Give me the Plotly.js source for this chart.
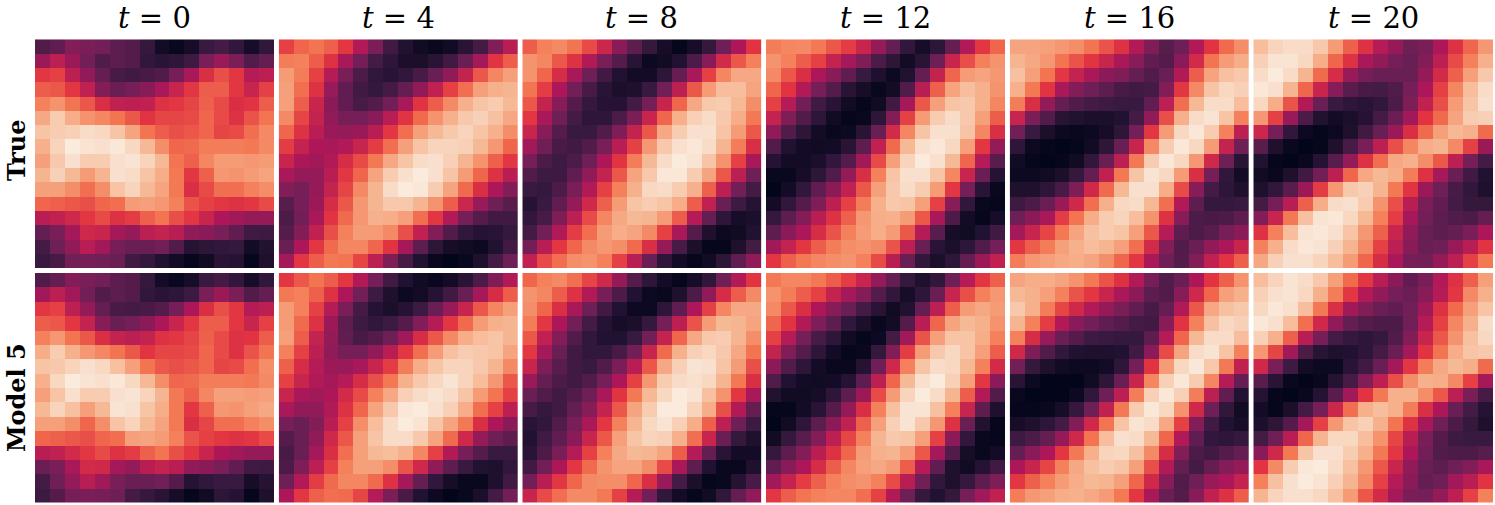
<!DOCTYPE html>
<html>
<head>
<meta charset="utf-8">
<script src="https://cdn.plot.ly/plotly-3.0.1.min.js"></script>
<style>
html, body { margin: 0; padding: 0; background: #fff; overflow: hidden; }
</style>
</head>
<body>
<div id="chart" style="width:1495px;height:505px;"></div>
<script>
// cell values, 0 (darkest) to 100 (lightest)
var trueT0 = [
[21,25,33,31,29,24,22,14,5,2,6,15,18,13,6,13],
[39,47,39,29,21,24,22,13,11,12,16,31,38,31,21,26],
[58,60,47,36,26,19,17,19,21,30,42,55,63,58,45,47],
[66,65,58,48,33,27,30,34,42,50,58,66,66,58,50,60],
[74,78,71,65,55,48,47,48,56,58,61,67,62,55,57,66],
[83,92,84,78,75,71,65,57,61,61,62,68,62,56,64,71],
[90,92,93,96,95,90,82,71,66,63,65,68,61,62,70,76],
[85,94,100,98,97,99,95,87,77,68,69,73,73,73,72,76],
[81,91,97,92,92,97,98,94,87,71,67,75,80,80,79,80],
[86,93,87,80,86,97,96,90,84,72,58,67,79,78,80,82],
[81,81,77,70,77,90,94,87,82,72,55,62,70,70,74,77],
[68,67,65,63,68,70,80,81,79,74,64,60,58,56,58,62],
[46,48,52,58,62,56,59,67,71,63,58,50,43,40,37,37],
[26,31,41,52,50,41,37,47,49,46,36,35,31,25,17,16],
[18,28,36,46,40,30,27,27,29,21,10,12,13,14,5,9],
[15,19,29,30,29,27,17,14,9,5,1,4,11,10,1,8]
];
var trueT4 = [
[60,68,71,67,58,44,31,17,9,4,2,4,11,18,33,46],
[73,74,66,56,42,29,18,12,7,7,11,17,27,41,57,66],
[80,73,60,45,31,20,13,11,13,19,27,36,49,65,75,81],
[81,70,56,38,25,17,14,18,26,36,48,60,70,81,85,86],
[81,66,50,35,25,19,22,29,42,57,66,76,85,90,92,87],
[76,61,49,36,30,30,34,46,57,69,78,85,91,93,89,83],
[68,56,46,39,37,39,46,58,70,81,87,91,94,90,85,77],
[59,49,43,42,44,50,59,70,81,90,94,94,93,87,79,68],
[50,43,40,44,54,62,72,83,90,96,97,93,86,78,67,58],
[42,37,37,46,58,68,82,92,97,100,97,90,80,68,56,46],
[33,30,37,49,61,76,86,96,100,99,92,82,69,55,43,33],
[23,30,39,54,65,79,86,91,91,86,78,66,51,38,28,23],
[20,29,42,57,69,79,85,84,81,70,58,44,30,22,17,17],
[22,33,48,63,74,80,80,76,63,48,33,21,13,10,11,14],
[27,43,58,69,75,75,68,57,41,24,12,6,4,3,9,17],
[41,58,66,72,71,61,47,32,19,9,2,0,2,8,18,28]
];
var trueT8 = [
[66,74,76,71,62,51,35,24,14,6,1,6,14,28,43,57],
[78,75,65,56,44,31,22,11,3,4,9,20,35,53,65,74],
[78,68,54,42,28,17,9,5,5,12,26,42,60,75,83,83],
[71,59,43,29,19,11,7,8,15,29,47,65,80,88,88,82],
[65,49,34,22,14,10,10,18,30,50,68,83,91,92,87,77],
[58,42,28,18,12,12,20,31,50,68,85,93,96,91,84,72],
[50,34,22,15,15,21,32,49,65,83,92,97,97,90,80,65],
[40,28,19,17,21,31,46,60,79,91,97,99,96,86,73,55],
[30,20,16,20,28,43,57,73,87,96,100,98,90,78,60,42],
[21,16,16,25,36,49,65,82,91,99,99,92,82,65,47,28],
[15,14,20,31,44,60,74,85,95,96,92,85,67,47,29,18],
[10,15,25,37,52,67,80,90,92,90,84,66,48,27,16,10],
[13,19,32,47,62,75,83,87,86,80,66,45,26,12,6,7],
[18,29,44,59,70,80,84,82,76,60,42,22,8,3,4,9],
[29,46,58,68,76,79,77,69,55,37,19,7,1,1,8,18],
[48,62,70,77,78,74,60,46,27,12,5,1,4,12,25,36]
];
var trueT12 = [
[73,75,76,72,65,59,50,37,26,13,6,12,26,44,58,68],
[78,74,66,60,49,41,32,20,12,5,11,28,50,63,74,78],
[76,65,55,43,34,25,15,8,3,9,26,49,68,80,82,79],
[68,57,44,30,22,11,6,2,5,21,46,67,82,88,85,78],
[60,45,29,17,11,4,1,4,17,41,65,81,90,91,85,75],
[49,32,21,12,4,1,2,12,33,60,80,92,96,91,81,66],
[36,21,12,5,2,3,11,27,53,75,90,97,97,90,75,55],
[21,9,5,4,5,11,24,48,69,87,97,99,95,81,58,37],
[10,5,5,7,13,22,40,62,81,94,100,97,87,68,45,23],
[2,2,6,12,21,37,55,74,90,97,97,90,75,50,27,10],
[0,5,13,25,35,48,65,81,91,96,92,80,58,30,11,2],
[5,13,22,32,47,60,73,85,91,90,81,60,34,13,2,1],
[14,24,33,46,56,67,79,84,85,80,65,42,20,5,1,6],
[24,35,43,54,64,74,80,84,80,65,45,23,6,4,9,17],
[40,49,58,66,73,77,78,76,64,47,27,11,7,12,21,30],
[58,67,72,75,77,78,74,62,46,27,13,7,12,26,39,48]
];
var trueT16 = [
[82,82,81,79,77,71,64,56,44,32,23,28,44,57,69,77],
[86,83,79,71,64,57,50,42,34,25,22,35,53,71,80,84],
[89,81,71,58,49,42,35,32,26,21,27,44,66,82,89,91],
[85,72,57,42,33,28,24,19,17,18,33,58,76,90,95,93],
[73,55,37,26,21,18,16,15,15,25,47,70,87,96,96,88],
[50,31,21,11,9,7,7,9,18,36,63,85,96,98,90,74],
[29,15,7,3,2,3,6,12,30,58,80,95,99,92,74,47],
[12,3,1,0,1,4,12,27,50,76,92,99,95,80,49,28],
[4,1,0,1,4,13,27,47,72,92,99,95,79,52,28,11],
[3,3,4,7,14,26,48,72,90,98,95,80,55,30,13,5],
[8,8,12,19,32,52,69,87,97,97,84,62,34,18,12,8],
[16,20,27,38,52,70,85,95,96,87,70,44,24,14,14,15],
[28,35,42,59,71,84,92,94,88,78,56,34,20,19,20,24],
[41,50,61,72,82,89,92,90,81,65,45,24,20,23,30,35],
[58,66,73,81,85,88,86,81,70,53,33,21,27,36,43,50],
[73,79,81,83,84,82,77,68,58,42,28,22,33,48,57,67]
];
var trueT20 = [
[88,94,96,96,91,80,67,56,45,37,28,31,43,56,68,79],
[93,98,98,95,84,68,56,42,36,30,27,33,47,62,74,85],
[96,100,96,86,69,54,38,30,27,27,27,37,53,67,81,91],
[99,97,86,68,50,34,23,19,18,21,30,43,60,75,88,96],
[95,84,64,44,27,15,12,11,13,20,32,48,63,80,90,97],
[79,60,38,20,9,5,7,10,18,27,40,57,69,82,92,93],
[51,30,13,3,1,3,8,17,27,39,55,69,81,87,85,69],
[23,8,2,0,1,8,19,31,47,63,75,84,86,76,60,39],
[9,1,0,2,10,23,37,56,70,83,85,77,65,47,30,18],
[4,2,8,17,29,47,68,83,87,84,73,56,41,27,17,9],
[8,13,23,39,59,79,91,93,86,72,57,39,28,19,13,8],
[18,30,46,67,84,96,97,92,78,63,46,31,25,18,14,14],
[33,50,72,89,98,99,95,87,74,59,41,29,24,21,20,26],
[56,74,88,98,99,97,90,79,67,50,36,27,24,26,31,43],
[74,85,96,99,98,93,86,76,60,47,34,27,28,38,46,57],
[83,93,97,97,94,88,80,68,54,42,30,29,37,47,60,72]
];
var modelT0 = [
[21,26,33,31,29,24,22,14,5,2,6,15,18,13,6,13],
[40,47,40,29,21,24,22,13,11,12,16,31,39,31,21,26],
[58,60,47,37,26,19,18,19,22,30,43,55,63,58,45,47],
[66,65,58,49,34,27,30,35,43,50,58,66,66,58,50,60],
[74,79,71,65,55,49,47,49,56,58,61,67,62,56,57,66],
[84,92,85,79,75,71,65,57,61,61,62,68,62,56,64,71],
[90,91,94,97,95,89,81,71,65,63,65,68,61,62,70,77],
[85,95,100,98,97,99,95,87,77,68,69,73,73,73,72,76],
[81,90,97,92,92,97,98,94,86,72,67,75,81,81,80,81],
[87,94,89,81,87,98,97,90,84,72,58,67,79,78,81,83],
[81,81,77,68,77,90,94,87,82,72,55,61,70,70,74,77],
[68,67,65,63,68,70,81,82,80,74,64,60,58,56,58,62],
[46,48,53,58,62,56,59,67,71,63,58,50,43,40,37,37],
[27,31,42,53,52,41,37,46,49,46,36,35,31,25,17,16],
[18,28,37,46,40,31,27,27,29,22,10,13,15,15,6,10],
[16,22,30,31,30,28,18,14,11,6,1,4,12,10,1,8]
];
var modelT4 = [
[58,65,71,66,58,44,30,17,9,4,2,5,11,20,32,44],
[72,74,67,56,43,29,16,8,3,5,10,17,27,41,54,66],
[80,74,60,45,31,18,10,7,10,16,27,38,50,65,75,81],
[80,69,56,39,24,16,13,16,22,33,45,58,69,80,85,86],
[81,66,49,37,25,19,22,28,40,54,65,76,84,88,90,86],
[74,60,47,36,30,30,36,46,58,70,80,89,92,91,90,82],
[67,54,45,39,38,42,50,59,73,84,90,94,94,91,86,76],
[60,50,44,41,45,54,63,72,85,91,95,98,94,88,79,65],
[50,42,40,43,53,62,74,83,93,96,98,96,90,80,71,60],
[42,36,36,44,56,68,82,91,99,100,97,93,84,70,60,47],
[30,27,33,46,60,77,88,96,100,98,90,82,72,55,43,35],
[22,27,36,52,65,81,90,96,96,91,82,69,52,37,28,24],
[19,27,41,55,70,81,87,88,85,75,60,44,30,22,15,15],
[20,32,47,60,74,81,81,77,64,52,36,24,15,9,8,13],
[28,44,59,69,75,75,69,56,41,26,13,6,2,2,8,17],
[43,58,67,70,69,61,45,31,19,9,3,0,2,7,18,29]
];
var modelT8 = [
[68,74,76,70,61,52,37,22,12,5,1,6,13,28,44,57],
[78,75,66,56,44,30,20,9,3,2,8,20,36,54,66,76],
[77,68,55,42,28,17,9,3,3,12,25,43,60,75,83,83],
[73,58,43,29,18,10,6,7,14,30,47,64,80,87,86,82],
[65,48,33,21,13,9,9,15,29,49,68,83,91,92,86,77],
[58,41,27,17,13,13,19,29,50,69,85,93,95,91,83,71],
[50,32,23,17,15,21,31,46,65,83,93,98,97,90,80,63],
[38,26,20,17,21,30,43,60,79,92,96,97,95,86,72,55],
[27,21,17,21,28,42,57,72,87,95,100,98,89,78,58,42],
[19,14,17,26,34,49,65,82,92,100,100,94,84,63,44,26],
[11,13,21,31,42,58,74,86,95,98,93,84,67,47,28,16],
[9,17,25,35,50,65,81,90,94,93,85,70,50,27,14,8],
[11,20,31,45,60,74,83,87,86,82,66,45,26,11,5,5],
[17,29,43,58,69,78,82,82,77,62,42,24,9,2,2,8],
[29,46,58,68,76,77,77,68,55,38,18,7,1,2,10,19],
[50,62,70,76,76,72,60,45,29,13,5,1,4,13,26,36]
];
var modelT12 = [
[72,75,75,72,66,59,50,37,26,14,8,13,28,45,58,67],
[78,73,66,60,49,41,33,22,13,6,12,27,50,63,74,79],
[76,65,55,43,34,27,18,11,4,9,26,47,66,80,83,80],
[68,57,44,32,24,13,7,2,5,22,46,68,82,87,85,78],
[60,45,30,19,12,4,1,3,18,40,64,81,90,90,84,74],
[49,32,22,12,5,1,2,14,33,59,80,91,95,90,81,66],
[35,21,12,5,2,2,10,28,52,74,90,96,95,87,74,53],
[21,9,5,4,5,10,24,47,68,87,97,100,93,81,58,35],
[9,4,4,6,12,24,39,62,80,94,100,96,86,66,44,21],
[1,1,5,11,22,37,55,74,89,98,98,89,74,50,24,8],
[0,4,12,24,35,48,67,81,93,98,91,79,56,27,9,1],
[4,14,23,33,47,61,74,86,91,90,81,60,35,13,2,1],
[14,24,33,46,56,68,80,85,86,80,65,41,21,6,2,5],
[25,34,43,54,66,75,81,83,80,66,45,25,8,4,10,17],
[40,49,59,67,74,77,78,74,62,46,29,13,8,14,24,32],
[58,66,71,74,75,75,70,60,44,28,14,9,14,30,40,48]
];
var modelT16 = [
[82,84,84,82,78,72,64,56,44,30,21,27,43,57,67,78],
[87,85,81,74,64,58,50,42,35,24,21,34,52,68,81,85],
[91,85,73,61,52,44,37,31,25,19,26,44,65,83,89,91],
[86,74,59,44,35,29,25,22,18,17,34,57,74,89,95,93],
[74,54,38,27,22,16,15,14,14,24,45,68,87,96,96,88],
[52,32,21,13,9,8,8,9,17,35,62,82,96,98,90,74],
[29,14,8,4,3,3,5,12,30,57,80,95,99,91,72,48],
[11,3,0,0,0,4,12,27,50,75,93,99,92,75,45,26],
[2,0,0,0,3,13,28,47,73,93,99,93,73,47,25,9],
[1,1,2,6,14,28,48,72,92,99,95,78,52,28,13,4],
[6,8,12,18,33,52,71,90,98,96,83,60,33,17,9,6],
[16,20,26,37,52,71,88,97,96,87,68,44,25,13,12,14],
[26,35,43,58,72,85,94,95,89,76,54,33,20,17,22,26],
[43,50,61,74,83,89,92,90,81,63,44,26,18,26,33,37],
[58,67,74,80,84,87,86,81,68,52,34,21,28,38,43,49],
[73,79,81,84,85,83,80,72,58,42,27,22,34,48,56,66]
];
var modelT20 = [
[88,94,98,96,91,81,69,58,46,35,25,31,44,56,67,81],
[93,97,98,95,85,73,58,44,36,30,27,34,45,58,76,85],
[95,99,97,88,72,55,40,33,27,25,29,40,56,69,81,90],
[99,97,88,70,52,36,26,22,20,20,29,45,60,75,85,96],
[93,85,67,46,30,18,14,12,14,21,33,50,65,78,89,95],
[79,61,40,20,11,8,9,12,18,27,41,57,71,84,90,91],
[52,31,16,5,3,3,11,17,27,41,58,73,83,87,84,69],
[23,11,2,0,2,10,19,33,47,63,77,85,84,76,60,41],
[10,1,0,2,10,23,40,57,72,85,85,77,65,47,31,19],
[5,1,7,18,30,51,70,85,88,85,73,55,43,27,18,10],
[7,12,22,41,60,79,90,93,85,71,56,41,28,20,14,8],
[18,28,46,68,86,95,95,88,78,61,46,31,22,16,15,15],
[35,52,72,90,97,97,92,85,72,58,43,29,21,20,20,23],
[57,76,92,99,100,96,89,79,65,50,36,27,24,28,33,42],
[74,89,97,100,98,93,86,76,60,45,35,26,28,40,46,57],
[86,94,97,97,95,89,80,65,53,41,31,30,37,47,60,74]
];

var times = [0, 4, 8, 12, 16, 20];
var rowLabels = ["True", "Model 5"];
var panels = [
    [trueT0, trueT4, trueT8, trueT12, trueT16, trueT20],
    [modelT0, modelT4, modelT8, modelT12, modelT16, modelT20]
];

// rocket colormap
var rocket = [
    [0, "#03051a"],
    [0.143, "#35193e"],
    [0.286, "#701f57"],
    [0.429, "#ad1759"],
    [0.571, "#e13342"],
    [0.714, "#f37651"],
    [0.857, "#f6b48f"],
    [1, "#faebdd"]
];

var W = 1495, H = 505;
// panel edges in pixels
var colEdges = [[35, 274], [278.7, 518], [522.3, 761.5], [766, 1005], [1009.7, 1249], [1253.3, 1493]];
var rowEdges = [[39.3, 268], [273, 502.5]];
// the row labels do not sit exactly in the middle of their panels
var labelCenters = [151, 398];

var data = [];
var layout = {
    width: W,
    height: H,
    margin: {l: 0, r: 0, t: 0, b: 0},
    paper_bgcolor: "#fff",
    plot_bgcolor: "#fff",
    showlegend: false,
    annotations: []
};

for (var r = 0; r < 2; r++) {
    for (var c = 0; c < 6; c++) {
        var n = r * 6 + c + 1;
        data.push({
            type: "heatmap",
            z: panels[r][c],
            xaxis: "x" + n,
            yaxis: "y" + n,
            zmin: 0,
            zmax: 100,
            colorscale: rocket,
            showscale: false
        });
        layout["xaxis" + n] = {
            domain: [colEdges[c][0] / W, colEdges[c][1] / W],
            anchor: "y" + n,
            visible: false
        };
        layout["yaxis" + n] = {
            domain: [1 - rowEdges[r][1] / H, 1 - rowEdges[r][0] / H],
            anchor: "x" + n,
            autorange: "reversed",
            visible: false
        };
    }
}

// column titles
times.forEach(function(t, c) {
    layout.annotations.push({
        xref: "paper",
        yref: "paper",
        x: (colEdges[c][0] + colEdges[c][1]) / 2 / W,
        y: 1 - 18 / H,
        xanchor: "center",
        yanchor: "middle",
        text: "<i>t</i> = " + t,
        showarrow: false,
        font: {family: "DejaVu Serif", size: 29, color: "#000"}
    });
});

// row labels
rowLabels.forEach(function(label, r) {
    layout.annotations.push({
        xref: "paper",
        yref: "paper",
        x: 16 / W,
        y: 1 - labelCenters[r] / H,
        xanchor: "center",
        yanchor: "middle",
        text: "<b>" + label + "</b>",
        textangle: -90,
        showarrow: false,
        font: {family: "DejaVu Serif", size: 24, color: "#000"}
    });
});

Plotly.newPlot("chart", data, layout, {displayModeBar: false, staticPlot: true});
</script>
</body>
</html>
